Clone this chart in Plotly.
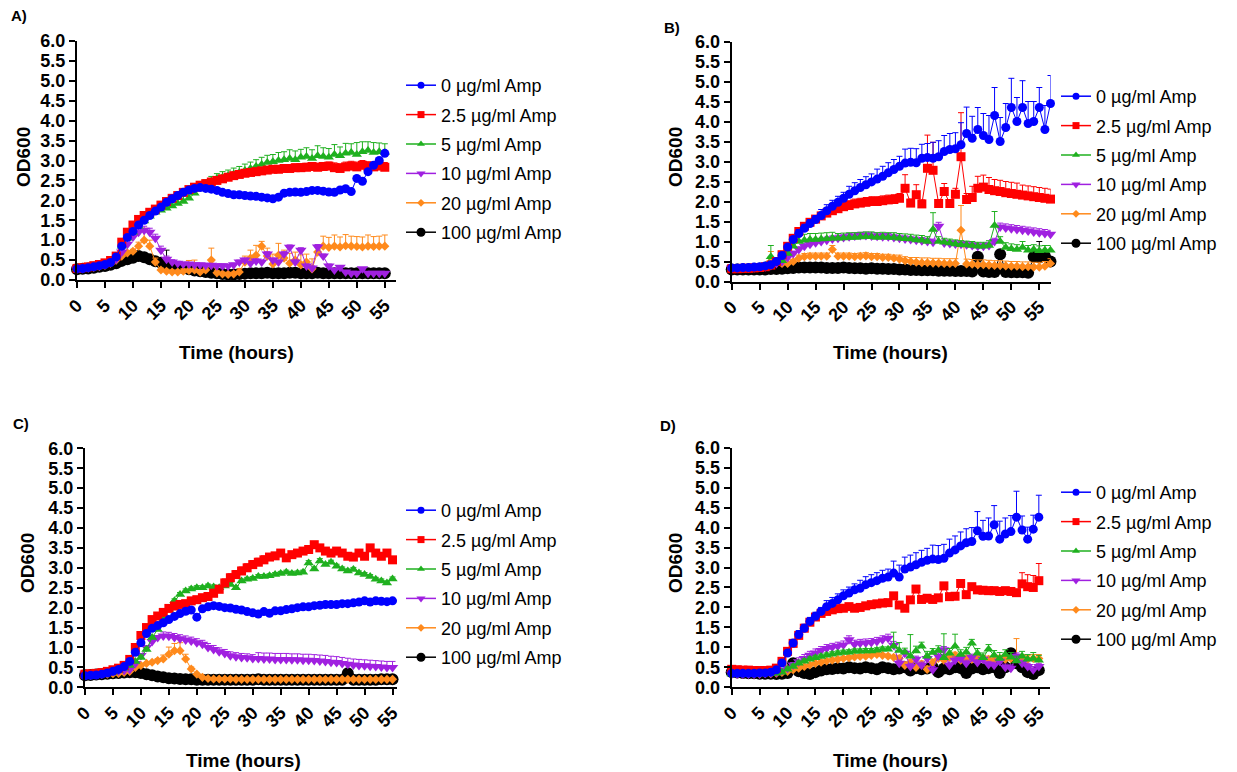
import plotly.graph_objects as go

# ---------------------------------------------------------------------------
# Time axes (hours)
# ---------------------------------------------------------------------------
hours_a = list(range(56))
hours_b = list(range(58))
hours_c = list(range(56))
hours_d = list(range(56))

series_names = ["0 µg/ml Amp", "2.5 µg/ml Amp", "5 µg/ml Amp",
                "10 µg/ml Amp", "20 µg/ml Amp", "100 µg/ml Amp"]

# ---------------------------------------------------------------------------
# Panel A  (mean OD600 and upper SD)
# ---------------------------------------------------------------------------
A_amp0 = [0.28,0.29,0.31,0.33,0.36,0.39,0.44,0.58,0.85,1.07,
          1.22,1.38,1.5,1.62,1.73,1.83,1.95,2.04,2.12,2.2,
          2.26,2.3,2.32,2.3,2.28,2.25,2.2,2.17,2.14,2.14,
          2.12,2.11,2.1,2.08,2.06,2.04,2.08,2.18,2.2,2.21,
          2.2,2.22,2.25,2.25,2.23,2.21,2.2,2.26,2.29,2.22,
          2.55,2.48,2.72,2.88,3.0,3.18]
A_amp2_5 = [0.29,0.31,0.33,0.36,0.39,0.43,0.49,0.6,0.95,1.2,
            1.38,1.52,1.62,1.7,1.78,1.88,1.97,2.05,2.12,2.2,
            2.27,2.33,2.38,2.42,2.46,2.5,2.54,2.58,2.62,2.65,
            2.68,2.7,2.72,2.74,2.76,2.78,2.78,2.8,2.8,2.82,
            2.82,2.83,2.85,2.83,2.85,2.86,2.82,2.8,2.84,2.86,
            2.84,2.88,2.85,2.84,2.86,2.83]
A_amp5 = [0.28,0.29,0.31,0.33,0.36,0.4,0.45,0.56,0.85,1.05,
          1.2,1.35,1.48,1.6,1.7,1.75,1.8,1.86,1.92,1.97,
          2.05,2.18,2.3,2.4,2.48,2.55,2.58,2.62,2.66,2.7,
          2.75,2.8,2.85,2.9,2.95,2.97,3.0,3.02,3.05,3.02,
          3.08,3.1,3.05,3.12,3.1,3.08,3.15,3.12,3.18,3.2,
          3.15,3.22,3.25,3.2,3.22,3.2]
A_amp10 = [0.28,0.29,0.31,0.33,0.35,0.38,0.43,0.52,0.7,0.9,
           1.08,1.2,1.25,1.2,1.05,0.75,0.52,0.45,0.42,0.4,
           0.4,0.38,0.38,0.37,0.37,0.36,0.36,0.35,0.38,0.45,
           0.5,0.42,0.48,0.45,0.65,0.5,0.45,0.65,0.82,0.45,
           0.75,0.35,0.3,0.83,0.6,0.35,0.25,0.32,0.2,0.17,
           0.17,0.28,0.17,0.17,0.17,0.17]
A_amp20 = [0.28,0.29,0.3,0.32,0.34,0.37,0.42,0.5,0.6,0.68,
           0.72,0.85,1.0,0.85,0.45,0.25,0.22,0.2,0.2,0.22,
           0.24,0.25,0.2,0.25,0.5,0.18,0.15,0.14,0.15,0.2,
           0.45,0.55,0.62,0.85,0.6,0.4,0.62,0.55,0.42,0.5,
           0.38,0.45,0.28,0.7,0.85,0.82,0.85,0.83,0.86,0.85,
           0.84,0.83,0.85,0.84,0.85,0.85]
A_amp100 = [0.27,0.28,0.29,0.31,0.33,0.35,0.38,0.42,0.48,0.52,
            0.56,0.6,0.57,0.52,0.47,0.43,0.39,0.35,0.32,0.3,
            0.27,0.24,0.22,0.2,0.18,0.17,0.15,0.14,0.14,0.15,
            0.16,0.17,0.17,0.17,0.18,0.17,0.17,0.17,0.18,0.18,
            0.17,0.17,0.17,0.18,0.17,0.17,0.17,0.17,0.17,0.17,
            0.17,0.17,0.17,0.17,0.17,0.17]

A_amp0_sd = [0.02,0.02,0.02,0.02,0.02,0.02,0.02,0.02,0.03,0.03,
             0.03,0.03,0.03,0.03,0.03,0.03,0.03,0.03,0.03,0.03,
             0.03,0.03,0.03,0.03,0.03,0.03,0.03,0.03,0.03,0.03,
             0.03,0.03,0.03,0.03,0.03,0.03,0.03,0.03,0.03,0.03,
             0.03,0.03,0.03,0.03,0.03,0.03,0.03,0.03,0.03,0.03,
             0.04,0.04,0.05,0.05,0.05,0.06]
A_amp2_5_sd = [0.02,0.02,0.02,0.02,0.02,0.02,0.02,0.03,0.04,0.05,
               0.05,0.05,0.05,0.05,0.05,0.05,0.05,0.05,0.05,0.05,
               0.05,0.05,0.05,0.06,0.06,0.06,0.06,0.06,0.07,0.07,
               0.07,0.07,0.08,0.08,0.08,0.08,0.09,0.09,0.09,0.09,
               0.1,0.1,0.1,0.1,0.1,0.1,0.12,0.12,0.12,0.12,
               0.12,0.12,0.12,0.12,0.12,0.12]
A_amp5_sd = [0.02,0.02,0.02,0.02,0.02,0.02,0.02,0.03,0.05,0.06,
             0.07,0.08,0.08,0.09,0.1,0.1,0.12,0.12,0.14,0.14,
             0.15,0.15,0.12,0.12,0.12,0.12,0.14,0.14,0.15,0.15,
             0.16,0.16,0.17,0.18,0.18,0.18,0.2,0.2,0.22,0.22,
             0.2,0.22,0.22,0.25,0.22,0.22,0.25,0.22,0.25,0.22,
             0.3,0.25,0.22,0.25,0.22,0.22]
A_amp10_sd = [0.02,0.02,0.02,0.02,0.02,0.02,0.02,0.03,0.04,0.05,
              0.06,0.08,0.1,0.1,0.1,0.1,0.08,0.06,0.05,0.04,
              0.04,0.04,0.04,0.04,0.04,0.04,0.04,0.04,0.04,0.05,
              0.05,0.05,0.05,0.05,0.06,0.05,0.05,0.06,0.06,0.05,
              0.06,0.05,0.05,0.06,0.05,0.05,0.04,0.04,0.03,0.03,
              0.03,0.03,0.03,0.03,0.03,0.03]
A_amp20_sd = [0.02,0.02,0.02,0.02,0.02,0.02,0.02,0.03,0.04,0.05,
              0.05,0.1,0.3,0.15,0.1,0.05,0.05,0.05,0.05,0.06,
              0.25,0.25,0.06,0.06,0.3,0.05,0.05,0.05,0.05,0.08,
              0.15,0.2,0.25,0.12,0.2,0.25,0.3,0.2,0.25,0.2,
              0.25,0.2,0.25,0.15,0.25,0.25,0.28,0.25,0.28,0.25,
              0.25,0.25,0.28,0.25,0.25,0.28]
A_amp100_sd = [0.02,0.02,0.02,0.02,0.02,0.02,0.02,0.03,0.03,0.04,
               0.04,0.05,0.05,0.05,0.05,0.05,0.36,0.04,0.04,0.03,
               0.03,0.02,0.02,0.02,0.02,0.02,0.02,0.02,0.02,0.02,
               0.02,0.02,0.02,0.02,0.02,0.02,0.02,0.02,0.02,0.02,
               0.02,0.02,0.02,0.02,0.02,0.02,0.02,0.02,0.02,0.02,
               0.02,0.02,0.02,0.02,0.02,0.02]

# ---------------------------------------------------------------------------
# Panel B
# ---------------------------------------------------------------------------
B_amp0 = [0.34,0.34,0.35,0.35,0.36,0.37,0.39,0.42,0.5,0.65,
          0.86,1.05,1.2,1.33,1.45,1.55,1.65,1.77,1.88,1.98,
          2.08,2.18,2.27,2.35,2.42,2.49,2.56,2.63,2.72,2.8,
          2.88,2.96,2.98,2.97,3.08,3.1,3.08,3.12,3.25,3.3,
          3.32,3.42,3.7,3.58,3.8,3.65,3.55,4.15,3.5,3.85,
          4.35,4.0,4.35,3.95,4.0,4.35,3.8,4.45]
B_amp2_5 = [0.32,0.32,0.33,0.33,0.34,0.35,0.37,0.41,0.5,0.67,
            0.88,1.08,1.25,1.38,1.48,1.56,1.64,1.71,1.77,1.82,
            1.87,1.9,1.94,1.96,1.98,2.0,2.0,2.02,2.04,2.05,
            2.08,2.33,1.96,2.17,1.94,2.83,2.78,1.95,2.25,1.95,
            2.18,3.12,2.05,2.1,2.33,2.36,2.3,2.27,2.25,2.22,
            2.2,2.18,2.16,2.14,2.12,2.1,2.08,2.06]
B_amp5 = [0.33,0.34,0.35,0.35,0.36,0.37,0.4,0.62,0.45,0.52,
          0.7,0.88,1.0,1.03,1.05,1.05,1.06,1.07,1.08,1.08,
          1.09,1.1,1.1,1.11,1.12,1.12,1.1,1.11,1.1,1.1,
          1.08,1.07,1.06,1.04,1.03,1.0,1.3,1.0,0.98,0.96,
          0.94,0.92,0.91,0.9,0.88,0.88,0.9,1.4,1.0,0.85,
          0.82,0.8,0.85,0.78,0.8,0.77,0.78,0.78]
B_amp10 = [0.33,0.33,0.34,0.34,0.35,0.36,0.37,0.4,0.45,0.5,
           0.6,0.7,0.8,0.88,0.93,0.97,1.0,1.03,1.06,1.08,
           1.1,1.12,1.14,1.15,1.15,1.14,1.13,1.12,1.12,1.1,
           1.08,1.06,1.05,1.03,1.02,1.0,0.98,1.38,0.96,0.95,
           0.94,0.93,0.92,0.9,0.88,0.88,0.9,1.0,1.36,1.34,
           1.32,1.3,1.28,1.26,1.24,1.22,1.2,1.18]
B_amp20 = [0.33,0.33,0.33,0.34,0.34,0.35,0.38,0.5,0.48,0.45,
           0.45,0.5,0.58,0.62,0.63,0.63,0.63,0.63,0.8,0.63,
           0.63,0.63,0.62,0.63,0.64,0.62,0.62,0.6,0.6,0.58,
           0.56,0.52,0.5,0.48,0.47,0.47,0.46,0.46,0.45,0.45,
           0.45,1.28,0.44,0.43,0.42,0.42,0.41,0.4,0.4,0.39,
           0.38,0.38,0.37,0.37,0.36,0.36,0.38,0.45]
B_amp100 = [0.3,0.3,0.3,0.3,0.3,0.3,0.3,0.31,0.31,0.32,
            0.33,0.34,0.35,0.35,0.35,0.35,0.35,0.34,0.34,0.34,
            0.35,0.34,0.33,0.33,0.32,0.33,0.32,0.32,0.31,0.31,
            0.3,0.3,0.29,0.29,0.28,0.28,0.28,0.27,0.27,0.27,
            0.26,0.26,0.26,0.25,0.62,0.25,0.24,0.24,0.68,0.24,
            0.23,0.23,0.23,0.22,0.62,0.6,0.63,0.5]

B_amp0_sd = [0.02,0.02,0.02,0.02,0.02,0.02,0.02,0.02,0.05,0.05,
             0.05,0.05,0.1,0.1,0.1,0.1,0.15,0.15,0.15,0.15,
             0.15,0.2,0.2,0.2,0.2,0.2,0.25,0.25,0.25,0.25,
             0.25,0.35,0.35,0.35,0.35,0.35,0.4,0.4,0.4,0.4,
             0.4,0.55,0.66,0.55,0.55,0.55,0.6,0.7,0.6,0.6,
             0.73,0.6,0.67,0.55,0.5,0.5,0.6,0.7]
B_amp2_5_sd = [0.02,0.02,0.02,0.02,0.02,0.02,0.02,0.02,0.03,0.04,
               0.05,0.05,0.05,0.05,0.05,0.05,0.05,0.05,0.05,0.05,
               0.12,0.12,0.12,0.12,0.12,0.12,0.12,0.12,0.12,0.12,
               0.12,0.34,0.1,0.25,0.1,0.83,0.7,0.1,0.2,0.1,
               0.15,1.1,0.15,0.28,0.3,0.3,0.3,0.28,0.28,0.28,
               0.28,0.28,0.25,0.25,0.25,0.25,0.25,0.25]
B_amp5_sd = [0.02,0.02,0.02,0.02,0.02,0.02,0.02,0.28,0.05,0.05,
             0.1,0.15,0.15,0.15,0.15,0.15,0.15,0.15,0.15,0.12,
             0.12,0.12,0.12,0.12,0.12,0.12,0.12,0.12,0.12,0.12,
             0.12,0.12,0.12,0.12,0.12,0.12,0.42,0.12,0.1,0.1,
             0.1,0.1,0.1,0.1,0.1,0.1,0.12,0.35,0.12,0.12,
             0.12,0.12,0.15,0.12,0.12,0.12,0.12,0.12]
B_amp10_sd = [0.02,0.02,0.02,0.02,0.02,0.02,0.02,0.02,0.03,0.04,
              0.05,0.06,0.07,0.08,0.08,0.08,0.08,0.08,0.08,0.08,
              0.08,0.08,0.08,0.08,0.08,0.08,0.08,0.08,0.08,0.08,
              0.08,0.08,0.08,0.08,0.08,0.08,0.08,0.1,0.08,0.08,
              0.08,0.08,0.08,0.08,0.08,0.08,0.08,0.08,0.1,0.1,
              0.1,0.1,0.1,0.1,0.1,0.1,0.1,0.1]
B_amp20_sd = [0.02,0.02,0.02,0.02,0.02,0.02,0.05,0.25,0.05,0.05,
              0.05,0.05,0.08,0.08,0.08,0.08,0.08,0.08,0.1,0.08,
              0.08,0.08,0.08,0.08,0.08,0.08,0.08,0.08,0.08,0.08,
              0.1,0.1,0.1,0.12,0.12,0.12,0.12,0.12,0.12,0.12,
              0.12,0.62,0.12,0.12,0.12,0.12,0.12,0.12,0.12,0.12,
              0.12,0.12,0.12,0.12,0.12,0.12,0.12,0.12]
B_amp100_sd = [0.02,0.02,0.02,0.02,0.02,0.02,0.02,0.02,0.02,0.02,
               0.02,0.02,0.03,0.03,0.03,0.03,0.03,0.03,0.03,0.03,
               0.03,0.03,0.03,0.03,0.03,0.03,0.03,0.03,0.03,0.03,
               0.03,0.03,0.03,0.03,0.03,0.03,0.03,0.03,0.03,0.03,
               0.03,0.03,0.03,0.03,0.05,0.03,0.03,0.03,0.05,0.03,
               0.03,0.03,0.03,0.03,0.1,0.4,0.1,0.05]

# ---------------------------------------------------------------------------
# Panel C
# ---------------------------------------------------------------------------
C_amp0 = [0.29,0.3,0.31,0.33,0.36,0.4,0.45,0.52,0.65,0.88,
          1.12,1.35,1.48,1.55,1.62,1.7,1.78,1.85,1.91,1.94,
          1.76,1.97,2.02,2.05,2.03,2.0,1.99,1.96,1.94,1.9,
          1.87,1.84,1.9,1.86,1.92,1.92,1.95,1.97,2.0,2.02,
          2.02,2.05,2.06,2.08,2.08,2.08,2.1,2.1,2.12,2.14,
          2.17,2.14,2.17,2.16,2.15,2.17]
C_amp2_5 = [0.33,0.34,0.35,0.37,0.4,0.44,0.48,0.55,0.7,1.0,
            1.3,1.5,1.7,1.79,1.88,1.98,2.04,2.08,2.1,2.17,
            2.2,2.25,2.28,2.36,2.46,2.62,2.75,2.83,2.92,3.0,
            3.08,3.14,3.2,3.27,3.3,3.37,3.25,3.33,3.37,3.42,
            3.46,3.58,3.5,3.42,3.37,3.42,3.37,3.29,3.27,3.37,
            3.29,3.5,3.37,3.29,3.37,3.2]
C_amp5 = [0.3,0.31,0.32,0.33,0.35,0.38,0.42,0.48,0.55,0.65,
          0.75,0.95,1.25,1.45,1.7,1.96,2.17,2.33,2.42,2.47,
          2.5,2.5,2.54,2.52,2.5,2.54,2.58,2.5,2.67,2.71,
          2.73,2.78,2.78,2.8,2.83,2.86,2.89,2.86,2.87,2.89,
          3.12,2.97,3.17,3.08,3.14,3.04,2.97,2.92,2.96,2.87,
          2.83,2.78,2.71,2.67,2.62,2.72]
C_amp10 = [0.35,0.36,0.37,0.38,0.39,0.4,0.41,0.42,0.45,0.6,
           0.8,1.0,1.15,1.25,1.29,1.28,1.25,1.22,1.19,1.16,
           1.12,1.08,1.0,0.95,0.89,0.85,0.79,0.77,0.75,0.74,
           0.72,0.72,0.71,0.71,0.7,0.7,0.7,0.69,0.69,0.68,
           0.68,0.67,0.66,0.65,0.63,0.62,0.6,0.58,0.56,0.55,
           0.54,0.53,0.52,0.51,0.5,0.5]
C_amp20 = [0.3,0.3,0.31,0.32,0.33,0.34,0.35,0.37,0.4,0.5,
           0.55,0.6,0.63,0.67,0.71,0.83,0.92,0.92,0.71,0.46,
           0.33,0.25,0.22,0.21,0.21,0.21,0.21,0.2,0.2,0.2,
           0.2,0.2,0.2,0.2,0.2,0.2,0.2,0.2,0.2,0.2,
           0.2,0.2,0.2,0.2,0.2,0.2,0.2,0.2,0.2,0.2,
           0.2,0.2,0.2,0.2,0.2,0.2]
C_amp100 = [0.3,0.31,0.32,0.33,0.34,0.35,0.36,0.37,0.38,0.38,
            0.36,0.33,0.3,0.27,0.25,0.23,0.22,0.21,0.2,0.2,
            0.19,0.19,0.19,0.19,0.19,0.19,0.19,0.19,0.19,0.19,
            0.19,0.2,0.19,0.19,0.19,0.19,0.19,0.19,0.19,0.19,
            0.19,0.19,0.19,0.19,0.19,0.19,0.19,0.35,0.19,0.19,
            0.19,0.19,0.19,0.2,0.2,0.2]

C_amp0_sd = [0.02,0.02,0.02,0.02,0.02,0.02,0.02,0.02,0.02,0.02,
             0.02,0.02,0.02,0.02,0.02,0.02,0.02,0.02,0.02,0.02,
             0.02,0.02,0.02,0.02,0.02,0.02,0.02,0.02,0.02,0.02,
             0.02,0.02,0.02,0.02,0.02,0.02,0.02,0.02,0.02,0.02,
             0.02,0.02,0.02,0.02,0.02,0.02,0.02,0.02,0.02,0.02,
             0.02,0.02,0.02,0.02,0.02,0.02]
C_amp2_5_sd = [0.02,0.02,0.02,0.02,0.02,0.02,0.02,0.02,0.03,0.05,
               0.05,0.05,0.05,0.05,0.05,0.05,0.05,0.05,0.05,0.05,
               0.06,0.08,0.1,0.1,0.1,0.1,0.1,0.1,0.1,0.1,
               0.1,0.1,0.1,0.08,0.08,0.06,0.05,0.05,0.05,0.05,
               0.05,0.05,0.05,0.05,0.05,0.05,0.05,0.05,0.05,0.05,
               0.05,0.05,0.05,0.05,0.05,0.05]
C_amp5_sd = [0.02,0.02,0.02,0.02,0.02,0.02,0.02,0.02,0.03,0.04,
             0.05,0.05,0.05,0.05,0.05,0.05,0.05,0.05,0.05,0.05,
             0.05,0.05,0.05,0.05,0.05,0.05,0.05,0.05,0.05,0.05,
             0.05,0.05,0.05,0.05,0.05,0.05,0.05,0.05,0.05,0.05,
             0.06,0.05,0.06,0.05,0.05,0.05,0.05,0.05,0.05,0.05,
             0.05,0.05,0.05,0.05,0.05,0.05]
C_amp10_sd = [0.02,0.02,0.02,0.02,0.02,0.02,0.02,0.02,0.02,0.02,
              0.05,0.05,0.05,0.05,0.1,0.1,0.1,0.1,0.1,0.1,
              0.1,0.1,0.1,0.1,0.1,0.1,0.1,0.1,0.1,0.1,
              0.1,0.15,0.15,0.15,0.15,0.15,0.15,0.15,0.15,0.15,
              0.15,0.15,0.15,0.15,0.15,0.15,0.15,0.15,0.15,0.15,
              0.15,0.15,0.15,0.15,0.15,0.15]
C_amp20_sd = [0.02,0.02,0.02,0.02,0.02,0.02,0.02,0.02,0.02,0.02,
              0.02,0.02,0.02,0.05,0.1,0.18,0.18,0.2,0.12,0.05,
              0.02,0.02,0.02,0.02,0.02,0.02,0.02,0.02,0.02,0.02,
              0.02,0.02,0.02,0.02,0.02,0.02,0.02,0.02,0.02,0.02,
              0.02,0.02,0.02,0.02,0.02,0.02,0.02,0.02,0.02,0.02,
              0.02,0.02,0.02,0.02,0.02,0.02]
C_amp100_sd = [0.02,0.02,0.02,0.02,0.02,0.02,0.02,0.02,0.02,0.02,
               0.02,0.02,0.02,0.02,0.02,0.02,0.02,0.02,0.02,0.02,
               0.02,0.02,0.02,0.02,0.02,0.02,0.02,0.02,0.02,0.02,
               0.02,0.02,0.02,0.02,0.02,0.02,0.02,0.02,0.02,0.02,
               0.02,0.02,0.02,0.02,0.02,0.02,0.02,0.02,0.02,0.02,
               0.02,0.02,0.02,0.02,0.02,0.02]

# ---------------------------------------------------------------------------
# Panel D
# ---------------------------------------------------------------------------
D_amp0 = [0.35,0.35,0.35,0.35,0.35,0.36,0.36,0.38,0.44,0.61,
          0.86,1.11,1.32,1.48,1.65,1.78,1.9,2.02,2.1,2.19,
          2.29,2.36,2.44,2.48,2.57,2.62,2.67,2.73,2.76,2.86,
          2.76,2.96,3.01,3.07,3.13,3.18,3.21,3.2,3.23,3.36,
          3.44,3.54,3.62,3.65,3.92,3.78,3.79,4.07,3.71,3.84,
          3.9,4.26,3.94,3.71,3.96,4.26]
D_amp2_5 = [0.45,0.44,0.43,0.43,0.42,0.42,0.42,0.43,0.48,0.65,
            0.9,1.1,1.3,1.48,1.63,1.76,1.85,1.9,1.94,1.97,
            1.98,2.02,1.98,2.0,2.04,2.07,2.09,2.11,2.12,2.29,
            2.06,1.98,2.19,2.46,2.2,2.23,2.2,2.24,2.54,2.27,
            2.28,2.6,2.32,2.52,2.44,2.43,2.42,2.42,2.4,2.42,
            2.4,2.37,2.59,2.52,2.5,2.67]
D_amp5 = [0.33,0.33,0.33,0.33,0.33,0.33,0.34,0.34,0.35,0.38,
          0.45,0.52,0.6,0.65,0.7,0.74,0.77,0.8,0.83,0.85,
          0.87,0.88,0.9,0.9,0.91,0.91,0.93,0.95,0.95,1.03,
          0.92,0.88,0.78,0.91,1.03,0.78,0.87,0.92,0.74,0.85,
          1.03,0.82,0.88,1.1,0.85,0.74,0.95,0.8,0.72,0.82,
          0.75,0.66,0.78,0.7,0.72,0.68]
D_amp10 = [0.33,0.33,0.33,0.33,0.33,0.34,0.35,0.36,0.38,0.42,
           0.48,0.56,0.64,0.72,0.8,0.86,0.92,0.97,1.0,1.03,
           1.06,1.19,1.08,1.1,1.11,1.12,1.15,1.19,1.23,1.05,
           0.6,0.85,0.52,0.7,0.55,0.72,0.44,0.78,0.94,0.55,
           0.68,0.72,0.6,0.75,0.62,0.7,0.57,0.55,0.65,0.5,
           0.48,0.78,0.6,0.52,0.44,0.52]
D_amp20 = [0.33,0.33,0.33,0.33,0.33,0.33,0.34,0.34,0.35,0.37,
           0.4,0.44,0.48,0.52,0.56,0.6,0.63,0.66,0.68,0.7,
           0.72,0.74,0.76,0.77,0.78,0.8,0.82,0.8,0.78,0.75,
           0.72,0.55,0.62,0.5,0.58,0.45,0.62,0.72,0.68,0.75,
           0.8,0.68,0.72,0.7,0.75,0.72,0.7,0.68,0.72,0.7,
           0.72,0.75,0.72,0.7,0.72,0.72]
D_amp100 = [0.38,0.37,0.36,0.35,0.35,0.34,0.34,0.34,0.33,0.34,
            0.36,0.6,0.4,0.36,0.33,0.38,0.42,0.45,0.46,0.48,
            0.47,0.5,0.48,0.47,0.5,0.48,0.45,0.5,0.48,0.45,
            0.47,0.5,0.42,0.48,0.45,0.47,0.5,0.38,0.47,0.45,
            0.5,0.48,0.36,0.47,0.5,0.45,0.48,0.5,0.36,0.5,
            0.85,0.6,0.5,0.38,0.33,0.43]

D_amp0_sd = [0.02,0.02,0.02,0.02,0.02,0.02,0.02,0.02,0.02,0.05,
             0.05,0.05,0.1,0.1,0.1,0.1,0.1,0.15,0.15,0.15,
             0.15,0.15,0.15,0.2,0.2,0.2,0.2,0.2,0.2,0.3,
             0.3,0.3,0.3,0.3,0.3,0.3,0.35,0.35,0.35,0.35,
             0.35,0.35,0.35,0.35,0.48,0.4,0.45,0.48,0.45,0.4,
             0.4,0.65,0.35,0.3,0.35,0.55]
D_amp2_5_sd = [0.02,0.02,0.02,0.02,0.02,0.02,0.02,0.02,0.02,0.03,
               0.04,0.05,0.05,0.05,0.05,0.05,0.05,0.05,0.05,0.05,
               0.05,0.05,0.05,0.05,0.05,0.05,0.05,0.05,0.05,0.05,
               0.05,0.05,0.05,0.05,0.05,0.05,0.05,0.05,0.05,0.05,
               0.05,0.05,0.05,0.05,0.05,0.05,0.05,0.05,0.05,0.05,
               0.05,0.05,0.28,0.3,0.3,0.43]
D_amp5_sd = [0.02,0.02,0.02,0.02,0.02,0.02,0.02,0.02,0.02,0.02,
             0.06,0.06,0.06,0.06,0.06,0.06,0.06,0.06,0.06,0.06,
             0.06,0.06,0.06,0.06,0.06,0.06,0.06,0.06,0.06,0.35,
             0.2,0.1,0.54,0.12,0.1,0.12,0.1,0.12,0.6,0.12,
             0.3,0.12,0.12,0.1,0.12,0.12,0.12,0.12,0.15,0.12,
             0.12,0.12,0.12,0.12,0.15,0.12]
D_amp10_sd = [0.02,0.02,0.02,0.02,0.02,0.02,0.02,0.02,0.02,0.04,
              0.05,0.06,0.1,0.1,0.1,0.1,0.1,0.1,0.1,0.1,
              0.1,0.1,0.1,0.1,0.1,0.1,0.1,0.1,0.1,0.1,
              0.08,0.08,0.08,0.08,0.08,0.08,0.08,0.08,0.08,0.08,
              0.08,0.08,0.08,0.08,0.08,0.08,0.08,0.08,0.08,0.08,
              0.08,0.08,0.08,0.08,0.08,0.08]
D_amp20_sd = [0.02,0.02,0.02,0.02,0.02,0.02,0.02,0.02,0.02,0.02,
              0.05,0.05,0.05,0.05,0.05,0.05,0.05,0.05,0.05,0.05,
              0.05,0.05,0.05,0.05,0.05,0.05,0.05,0.05,0.05,0.05,
              0.08,0.08,0.08,0.08,0.08,0.08,0.08,0.08,0.08,0.08,
              0.08,0.08,0.08,0.08,0.08,0.08,0.08,0.08,0.08,0.08,
              0.08,0.47,0.1,0.1,0.1,0.1]
D_amp100_sd = [0.02,0.02,0.02,0.02,0.02,0.02,0.02,0.02,0.02,0.02,
               0.02,0.12,0.02,0.02,0.02,0.02,0.02,0.02,0.02,0.02,
               0.02,0.02,0.02,0.02,0.02,0.02,0.02,0.02,0.02,0.02,
               0.02,0.02,0.02,0.02,0.02,0.02,0.02,0.02,0.02,0.02,
               0.02,0.02,0.02,0.02,0.02,0.02,0.02,0.02,0.02,0.02,
               0.12,0.02,0.02,0.02,0.02,0.02]

# ---------------------------------------------------------------------------
# Styling
# ---------------------------------------------------------------------------
FONT = "Liberation Sans, Arial, sans-serif"
W, H = 1237, 772

colors = ["#0000FF", "#FF0000", "#1FB01F", "#A020E0", "#FF8A1C", "#000000"]
symbols = ["circle", "square", "triangle-up", "triangle-down", "diamond", "circle"]
sizes = [9, 9, 9, 10, 7, 12]
legend_sizes = [7, 7, 7, 8, 6, 9]


def fx(px):
    return px / W


def fy(py):
    return 1 - py / H


panels = [
    dict(label="A)", t=hours_a, xmax=57.0,
         means=[A_amp0, A_amp2_5, A_amp5, A_amp10, A_amp20, A_amp100],
         sds=[A_amp0_sd, A_amp2_5_sd, A_amp5_sd, A_amp10_sd, A_amp20_sd, A_amp100_sd],
         box=(77, 396, 41, 280), letter=(19, 16), ylab=(23, 157), xlab=(236, 352),
         legend=(443, 85)),
    dict(label="B)", t=hours_b, xmax=57.0,
         means=[B_amp0, B_amp2_5, B_amp5, B_amp10, B_amp20, B_amp100],
         sds=[B_amp0_sd, B_amp2_5_sd, B_amp5_sd, B_amp10_sd, B_amp20_sd, B_amp100_sd],
         box=(731.7, 1050.5, 41.5, 281.5), letter=(672, 27), ylab=(675, 157), xlab=(891, 352),
         legend=(1098, 96)),
    dict(label="C)", t=hours_c, xmax=55.8,
         means=[C_amp0, C_amp2_5, C_amp5, C_amp10, C_amp20, C_amp100],
         sds=[C_amp0_sd, C_amp2_5_sd, C_amp5_sd, C_amp10_sd, C_amp20_sd, C_amp100_sd],
         box=(85, 397, 448.3, 687.3), letter=(21, 424), ylab=(27, 563), xlab=(243, 760),
         legend=(443, 510)),
    dict(label="D)", t=hours_d, xmax=57.0,
         means=[D_amp0, D_amp2_5, D_amp5, D_amp10, D_amp20, D_amp100],
         sds=[D_amp0_sd, D_amp2_5_sd, D_amp5_sd, D_amp10_sd, D_amp20_sd, D_amp100_sd],
         box=(731.7, 1050, 447.7, 687.3), letter=(668, 426), ylab=(675, 563), xlab=(891, 760),
         legend=(1098, 492)),
]

fig = go.Figure()
annotations = []
layout_extra = {}

for p_i, p in enumerate(panels):
    sfx = "" if p_i == 0 else str(p_i + 1)
    xref, yref = "x" + sfx, "y" + sfx
    legend_id = "legend" + sfx
    n = len(p["t"])
    # highest concentration first so the untreated curve sits on top
    for s_i in reversed(range(6)):
        fig.add_trace(go.Scatter(
            x=p["t"], y=p["means"][s_i],
            mode="lines+markers",
            name=series_names[s_i],
            showlegend=False,
            line=dict(color=colors[s_i], width=1),
            marker=dict(symbol=symbols[s_i], size=sizes[s_i], color=colors[s_i],
                        line=dict(width=0)),
            error_y=dict(type="data", symmetric=False, array=p["sds"][s_i],
                         arrayminus=[0] * n, color=colors[s_i], thickness=1, width=3),
            cliponaxis=False,
            xaxis=xref, yaxis=yref,
        ))
    # legend keys with small symbols
    for s_i in range(6):
        fig.add_trace(go.Scatter(
            x=[None], y=[None], mode="lines+markers",
            name=series_names[s_i],
            legend=legend_id,
            legendgroup=f"{p_i}-{s_i}",
            legendrank=s_i + 1,
            line=dict(color=colors[s_i], width=1.5),
            marker=dict(symbol=symbols[s_i], size=legend_sizes[s_i], color=colors[s_i]),
            xaxis=xref, yaxis=yref,
        ))

    x0, x1, y0, y1 = p["box"]
    axis_font = dict(family=FONT, size=18, color="black", weight="bold")
    layout_extra["xaxis" + sfx] = dict(
        domain=[fx(x0), fx(x1)], anchor=yref, range=[0, p["xmax"]],
        tickmode="linear", tick0=0, dtick=5, tickangle=-45,
        showline=True, linecolor="black", linewidth=2,
        ticks="outside", ticklen=6, tickwidth=2, tickcolor="black",
        showgrid=False, zeroline=False, tickfont=axis_font, automargin=False,
    )
    layout_extra["yaxis" + sfx] = dict(
        domain=[fy(y1), fy(y0)], anchor=xref, range=[0, 6],
        tickmode="linear", tick0=0, dtick=0.5, tickformat=".1f",
        showline=True, linecolor="black", linewidth=2,
        ticks="outside", ticklen=6, tickwidth=2, tickcolor="black",
        showgrid=False, zeroline=False, tickfont=axis_font, automargin=False,
    )
    lx, ly = p["legend"]
    layout_extra[legend_id] = dict(
        x=fx(lx - 42), y=fy(ly - 18), xanchor="left", yanchor="top",
        xref="container", yref="container",
        font=dict(family=FONT, size=18, color="black"),
        bgcolor="rgba(0,0,0,0)", borderwidth=0,
        tracegroupgap=3,
    )

    title_font = dict(family=FONT, size=19, color="black", weight="bold")
    annotations.append(dict(text=p["label"], x=fx(p["letter"][0]), y=fy(p["letter"][1]),
                            xref="paper", yref="paper", showarrow=False,
                            xanchor="center", yanchor="middle",
                            font=dict(family=FONT, size=15, color="black", weight="bold")))
    annotations.append(dict(text="OD600", x=fx(p["ylab"][0]), y=fy(p["ylab"][1]),
                            xref="paper", yref="paper", showarrow=False, textangle=-90,
                            xanchor="center", yanchor="middle",
                            font=title_font))
    annotations.append(dict(text="Time (hours)", x=fx(p["xlab"][0]), y=fy(p["xlab"][1]),
                            xref="paper", yref="paper", showarrow=False,
                            xanchor="center", yanchor="middle",
                            font=title_font))

fig.update_layout(
    template="none",
    width=W, height=H,
    margin=dict(l=0, r=0, t=0, b=0, pad=0, autoexpand=False),
    paper_bgcolor="white", plot_bgcolor="white",
    showlegend=True,
    annotations=annotations,
    **layout_extra,
)

# the page body gets no default margin so the figure sits at the window origin
fig.write_html("out.html", post_script="document.body.style.margin='0px';")
